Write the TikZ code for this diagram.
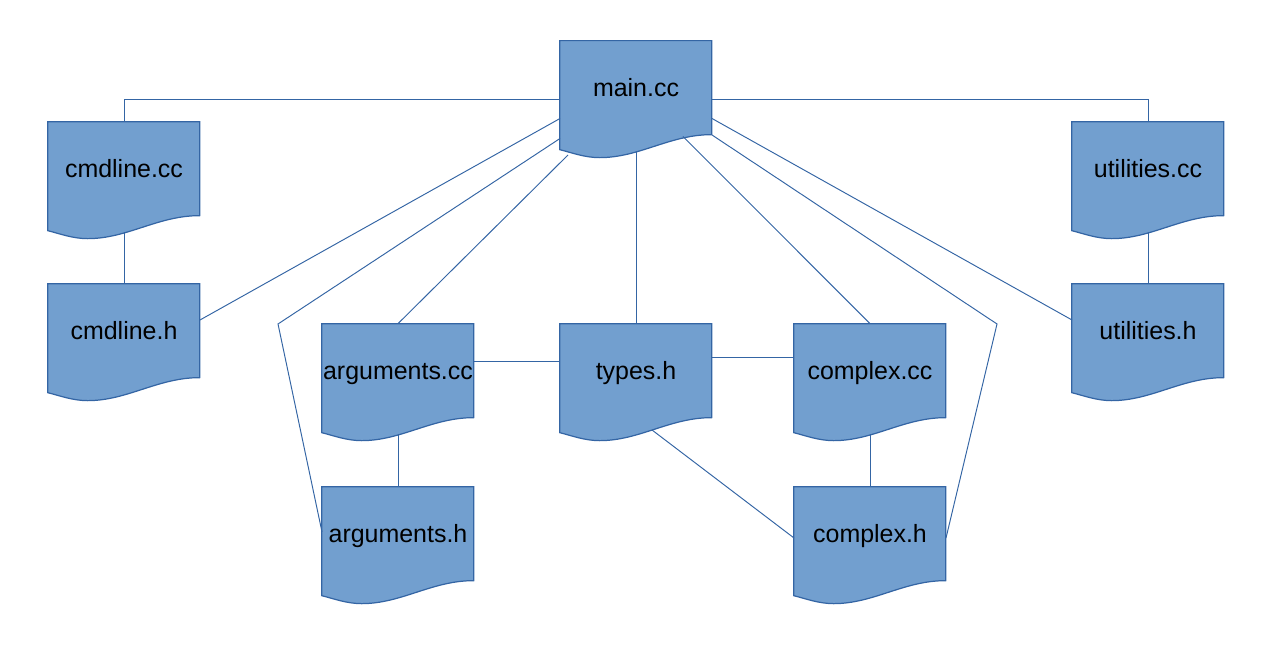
\documentclass[tikz,border=0pt]{standalone}
\usepackage{fontspec}
\setmainfont{Liberation Sans}
\usetikzlibrary{calc}
\pgfdeclarelayer{background}
\pgfsetlayers{background,main}
\definecolor{docfill}{HTML}{729FCF}
\definecolor{docline}{HTML}{3465A4}
\tikzset{
  docnode/.style={minimum width=3.04cm, minimum height=2.34cm, inner sep=0pt,
    text height=10pt, text depth=12.84pt, font=\fontsize{14.2}{17}\selectfont},
  docshape/.style={fill=docfill, draw=docline, line width=0.7pt},
  link/.style={draw=docline, line width=0.55pt}
}
\begin{document}
\begin{tikzpicture}
\useasboundingbox (0,0) rectangle (25.38,13.26);

\node[docnode] (main) at (12.72,11.27) {main.cc};
\node[docnode] (cmdcc) at (2.48,9.65) {cmdline.cc};
\node[docnode] (cmdh) at (2.48,6.41) {cmdline.h};
\node[docnode] (utilcc) at (22.96,9.65) {utilities.cc};
\node[docnode] (utilh) at (22.96,6.41) {utilities.h};
\node[docnode] (argcc) at (7.96,5.61) {arguments.cc};
\node[docnode] (argh) at (7.96,2.35) {arguments.h};
\node[docnode] (typesh) at (12.72,5.61) {types.h};
\node[docnode] (cplxcc) at (17.40,5.61) {complex.cc};
\node[docnode] (cplxh) at (17.40,2.35) {complex.h};

% document outlines behind the texts
\begin{pgfonlayer}{background}
\foreach \n in {main,cmdcc,cmdh,utilcc,utilh,argcc,argh,typesh,cplxcc,cplxh}{
  \begin{scope}[shift={(\n.north west)}]
    \path[docshape] (0,0) -- (3.04,0) -- (3.04,-1.88)
      .. controls (2.2,-1.88) and (1.6,-2.34) .. (0.8,-2.34)
      .. controls (0.5,-2.34) and (0.24,-2.24) .. (0,-2.18) -- cycle;
  \end{scope}
}
\end{pgfonlayer}

\coordinate (bendl) at (5.56,6.78);
\coordinate (bendr) at (19.94,6.78);

% links from main.cc
\draw[link] (main.west) -| (cmdcc.north);
\draw[link] (main.east) -| (utilcc.north);
\draw[link] ([shift={(-1.52,-0.38)}]main.center) -- ([shift={(1.52,0.45)}]cmdh.center);
\draw[link] ([shift={(-1.52,-0.78)}]main.center) -- (bendl) -- ([shift={(-1.52,0.27)}]argh.center);
\draw[link] ([shift={(-1.36,-1.11)}]main.center) -- (argcc.north);
\draw[link] ([shift={(0,-1.04)}]main.center) -- (typesh.north);
\draw[link] ([shift={(0.94,-0.74)}]main.center) -- (cplxcc.north);
\draw[link] ([shift={(1.52,-0.71)}]main.center) -- (bendr) -- ([shift={(1.52,0.15)}]cplxh.center);
\draw[link] ([shift={(1.52,-0.38)}]main.center) -- ([shift={(-1.52,0.45)}]utilh.center);

% pairs
\draw[link] ([yshift=-1.03cm]cmdcc.center) -- (cmdh.north);
\draw[link] ([yshift=-1.03cm]utilcc.center) -- (utilh.north);
\draw[link] ([yshift=-1.03cm]argcc.center) -- (argh.north);
\draw[link] ([yshift=-1.03cm]cplxcc.center) -- (cplxh.north);

% types.h
\draw[link] ([yshift=0.43cm]argcc.east) -- ([yshift=0.43cm]typesh.west);
\draw[link] ([yshift=0.50cm]typesh.east) -- ([yshift=0.50cm]cplxcc.west);
\draw[link] ([shift={(0.32,-0.95)}]typesh.center) -- ([shift={(-1.52,0.15)}]cplxh.center);
\end{tikzpicture}
\end{document}
